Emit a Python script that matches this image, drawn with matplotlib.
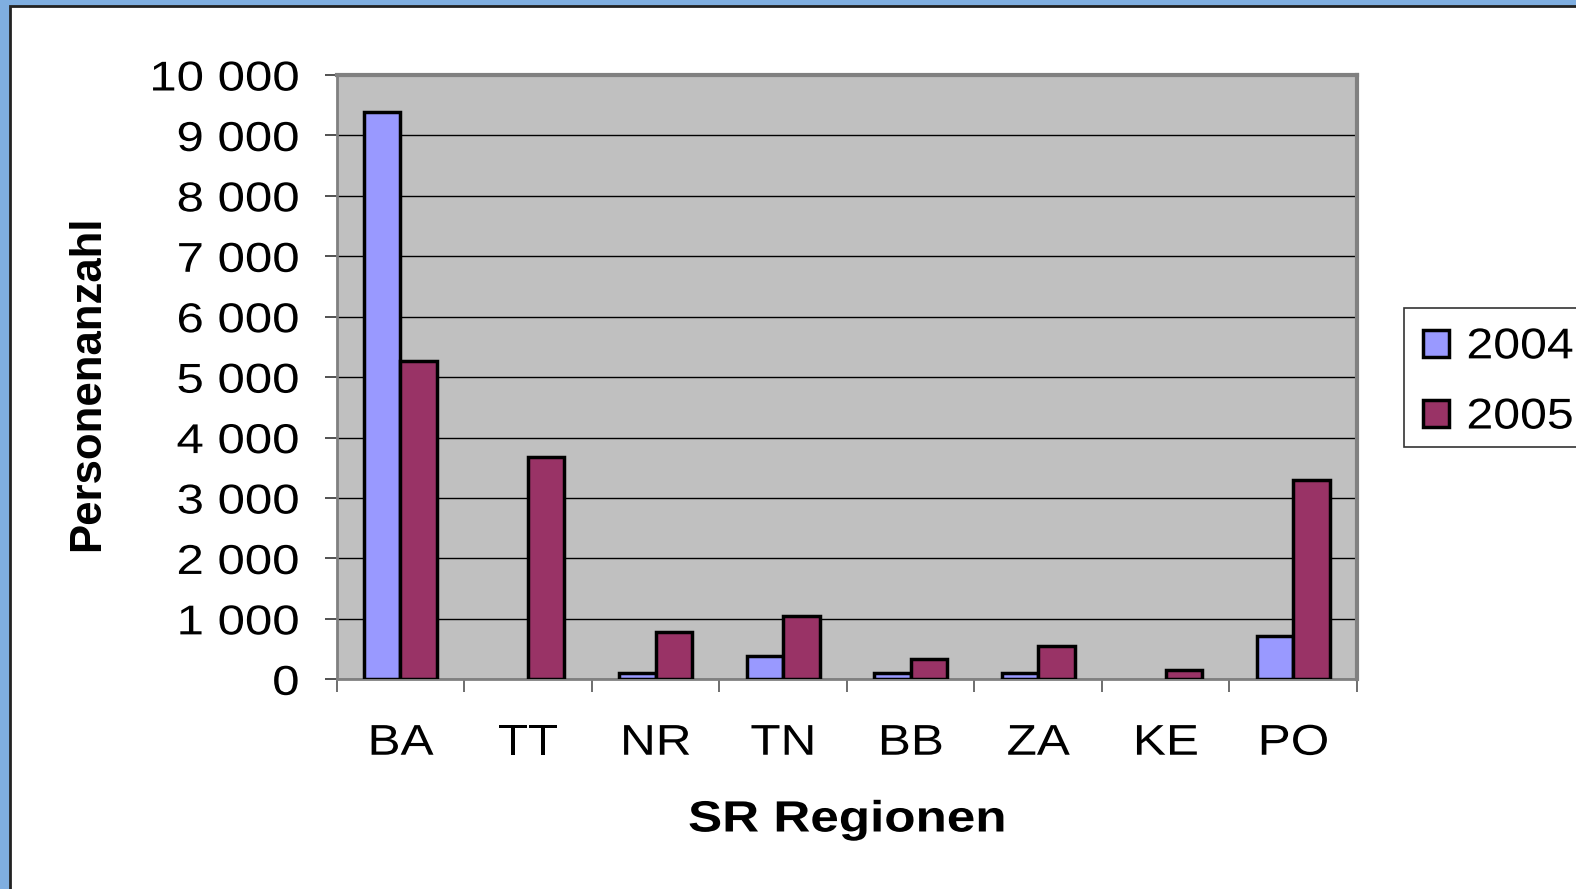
import matplotlib
matplotlib.use("Agg")
import matplotlib.pyplot as plt
from matplotlib.patches import Rectangle, Patch
from matplotlib.patheffects import AbstractPathEffect
from matplotlib.transforms import Affine2D
from matplotlib.ticker import FuncFormatter, MultipleLocator
import numpy as np

plt.rcParams["font.family"] = ["Liberation Sans", "DejaVu Sans"]

regions = ["BA", "TT", "NR", "TN", "BB", "ZA", "KE", "PO"]
years = ["2004", "2005"]
values_2004 = [9380, 0, 110, 380, 110, 110, 0, 720]
values_2005 = [5270, 3680, 780, 1050, 330, 550, 150, 3290]
colors = ["#9999FF", "#993366"]


class Stretch(AbstractPathEffect):
    # widen text horizontally, like the stretched screenshot
    def __init__(self, sx, anchor="center"):
        super().__init__()
        self.sx = sx
        self.anchor = anchor

    def draw_path(self, renderer, gc, tpath, affine, rgbFace=None):
        xs = tpath.vertices[:, 0]
        if len(xs):
            if self.anchor == "right":
                c = xs.max()
            elif self.anchor == "left":
                c = xs.min()
            else:
                c = (xs.min() + xs.max()) / 2
            affine = Affine2D().translate(-c, 0).scale(self.sx, 1).translate(c, 0) + affine
        renderer.draw_path(gc, tpath, affine, rgbFace)


W, H = 1576, 889
fig = plt.figure(figsize=(W / 100, H / 100), dpi=100)
fig.patch.set_facecolor("#7FAEE0")

# white slide area with dark border
fig.patches.append(Rectangle((10 / W, -0.02), 1.1, 1 - 6 / H + 0.02,
                             transform=fig.transFigure, facecolor="white",
                             edgecolor="#222222", linewidth=2, zorder=-10))

ax = fig.add_axes([336.7 / W, 1 - 679.3 / H, (1357 - 336.7) / W, (679.3 - 75) / H])
ax.set_facecolor("#C0C0C0")

x = np.arange(len(regions))
bw = 0.2857
b1 = ax.bar(x - bw / 2, values_2004, width=bw, color=colors[0], edgecolor="black",
            linewidth=2.5, zorder=3)
b2 = ax.bar(x + bw / 2, values_2005, width=bw, color=colors[1], edgecolor="black",
            linewidth=2.5, zorder=3)
for bars in (b1, b2):
    for p in bars:
        if p.get_height() == 0:
            p.set_visible(False)

ax.set_xlim(-0.5, len(regions) - 0.5)
ax.set_ylim(0, 10000)
ax.yaxis.set_major_locator(MultipleLocator(1000))
ax.yaxis.set_major_formatter(FuncFormatter(lambda v, p: f"{int(v):,}".replace(",", " ")))
ax.grid(axis="y", color="black", linewidth=1, zorder=1)

ax.set_xticks(x)
ax.set_xticklabels(regions)
ax.set_xticks(np.arange(len(regions) + 1) - 0.5, minor=True)
ax.tick_params(axis="x", which="major", length=0, pad=32, labelsize=31)
ax.tick_params(axis="x", which="minor", length=9, width=1.2, color="#555555")
ax.tick_params(axis="y", length=9, width=1.2, color="#333333", pad=18, labelsize=30)

for side in ["top", "right"]:
    ax.spines[side].set_color("#808080")
    ax.spines[side].set_linewidth(3)
for side in ["left", "bottom"]:
    ax.spines[side].set_color("#808080")
    ax.spines[side].set_linewidth(2)

fig.text(847 / W, 1 - 820 / H, "SR Regionen", ha="center", va="center",
         fontsize=31.5, fontweight="bold", path_effects=[Stretch(1.17)])
fig.text(88 / W, 1 - 383 / H, "Personenanzahl", ha="center", va="center",
         rotation=90, fontsize=31.5, fontweight="bold")

# legend box (runs off the right edge like in the original)
fig.patches.append(Rectangle((1404 / W, 1 - 447 / H), 0.2, (447 - 308) / H,
                             transform=fig.transFigure, facecolor="white",
                             edgecolor="#333333", linewidth=1.2, zorder=1))
handles = [Patch(facecolor=c, edgecolor="black", linewidth=2.5) for c in colors]
leg = fig.legend(handles, years, loc="upper left",
                 bbox_to_anchor=(1404 / W, 1 - 308 / H), fontsize=31,
                 frameon=False, handlelength=0.6,
                 handleheight=0.6, handletextpad=0.4, labelspacing=0.7,
                 borderpad=0.45, borderaxespad=0)
leg.set_zorder(2)
for t in leg.get_texts():
    t.set_path_effects([Stretch(1.12, "left")])

fig.canvas.draw()
for t in ax.get_xticklabels():
    t.set_path_effects([Stretch(1.15)])
for t in ax.get_yticklabels():
    t.set_path_effects([Stretch(1.18, "right")])

fig.savefig("out.png", dpi=100)
